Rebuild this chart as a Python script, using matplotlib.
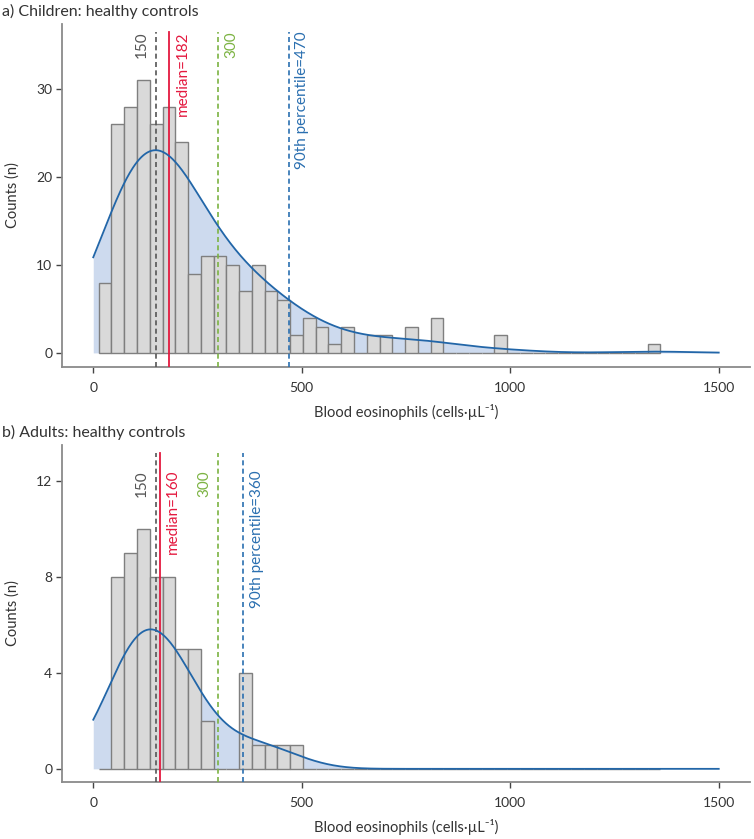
import numpy as np
import matplotlib
matplotlib.use("Agg")
import matplotlib.pyplot as plt
from matplotlib.transforms import blended_transform_factory

plt.rcParams['font.family'] = ['Lato', 'DejaVu Sans']

# ---------------- data ----------------
bin_lo, bin_hi, n_bins = 13, 1360, 44
children_counts = [8, 26, 28, 31, 26, 28, 24, 9, 11, 11, 10, 7, 10, 7, 6, 2, 4, 3, 1, 3,
                   0, 2, 2, 0, 3, 0, 4, 0, 0, 0, 0, 2, 0, 0, 0, 0, 0, 0, 0, 0, 0, 0, 0, 1]
adults_counts = [0, 8, 9, 10, 8, 8, 5, 5, 2, 0, 0, 4, 1, 1, 1, 1] + [0] * 28

panels = [
    dict(title="a) Children: healthy controls", counts=children_counts,
         yticks=[0, 10, 20, 30], ylim=(-1.6, 37.4), median=182, p90=470,
         kde_bw=95, kde_scale=1.12,
         label_y=0.978, sides={"150": "left", "300": "right"}),
    dict(title="b) Adults: healthy controls", counts=adults_counts,
         yticks=[0, 4, 8, 12], ylim=(-0.55, 13.5), median=160, p90=360,
         kde_bw=75, kde_scale=0.857,
         label_y=0.926, sides={"150": "left", "300": "left"}),
]
xticks = [0, 500, 1000, 1500]
xlabel = "Blood eosinophils (cells·µL⁻¹)"
ylabel = "Counts (n)"

# ---------------- style ----------------
BAR_FC, BAR_EC = "#d9d9d9", "#7f7f7f"
KDE_C, KDE_FILL = "#2266a8", "#cddaee"
C150, CMED, C300, CP90 = "#555555", "#e4193f", "#7cb342", "#2a6fb0"
SPINE = "#8a8a8a"
TXT = "#333333"

fig = plt.figure(figsize=(7.54, 8.39), dpi=100)
boxes = [(0.0822, 0.5626, 0.9125, 0.4088), (0.0822, 0.0679, 0.9125, 0.4017)]

edges = np.linspace(bin_lo, bin_hi, n_bins + 1)
width = edges[1] - edges[0]
centers = (edges[:-1] + edges[1:]) / 2
xs = np.linspace(0, 1500, 600)

for p, box in zip(panels, boxes):
    ax = fig.add_axes(box)
    counts = np.array(p["counts"], dtype=float)
    # gaussian kde of the histogram data, scaled to counts per bin
    h = p["kde_bw"]
    dens = np.zeros_like(xs)
    for c, k in zip(centers, counts):
        if k:
            dens += k * np.exp(-0.5 * ((xs - c) / h) ** 2) / (h * np.sqrt(2 * np.pi))
    kde = dens * width * p["kde_scale"]

    ax.fill_between(xs, 0, kde, color=KDE_FILL, lw=0, zorder=1)
    ax.bar(edges[:-1], counts, width=width, align="edge", color=BAR_FC,
           edgecolor=BAR_EC, linewidth=1.0, zorder=2)
    ax.plot(xs, kde, color=KDE_C, lw=1.3, zorder=4)

    ymax_line = 0.976
    ax.axvline(150, ymax=ymax_line, color=C150, lw=1.2, ls=(0, (3, 2)), zorder=3)
    ax.axvline(p["median"], ymax=ymax_line, color=CMED, lw=1.3, zorder=3)
    ax.axvline(300, ymax=ymax_line, color=C300, lw=1.2, ls=(0, (3, 2)), zorder=3)
    ax.axvline(p["p90"], ymax=ymax_line, color=CP90, lw=1.2, ls=(0, (3, 2)), zorder=3)

    tr = blended_transform_factory(ax.transData, ax.transAxes)
    labels = [(150, "150", C150, p["sides"]["150"]),
              (p["median"], f"median={p['median']}", CMED, "right"),
              (300, "300", C300, p["sides"]["300"]),
              (p["p90"], f"90th percentile={p['p90']}", CP90, "right")]
    for x, s, col, side in labels:
        off = -5 if side == "left" else 4.5
        ax.annotate(s, xy=(x, p["label_y"]), xycoords=tr, xytext=(off, 0),
                    textcoords="offset points", rotation=90, color=col,
                    fontsize=11, ha="right" if side == "left" else "left",
                    va="top", zorder=5)

    ax.set_xlim(-75, 1575)
    ax.set_ylim(*p["ylim"])
    ax.set_xticks(xticks)
    ax.set_yticks(p["yticks"])
    for sp in ["top", "right"]:
        ax.spines[sp].set_visible(False)
    for sp in ["left", "bottom"]:
        ax.spines[sp].set_color(SPINE)
        ax.spines[sp].set_linewidth(1.3)
    ax.tick_params(direction="out", length=4, width=1.0, color="#444444",
                   labelsize=10, labelcolor=TXT, pad=3)
    ax.tick_params(axis="x", pad=7)
    ax.set_xlabel(xlabel, fontsize=10.5, color=TXT, labelpad=7)
    ax.set_ylabel(ylabel, fontsize=10.5, color=TXT, labelpad=12)
    fig.text(0.003, box[1] + box[3] + 0.006, p["title"], fontsize=11.5, color=TXT,
             ha="left", va="bottom")

fig.savefig("out.png", dpi=100)
